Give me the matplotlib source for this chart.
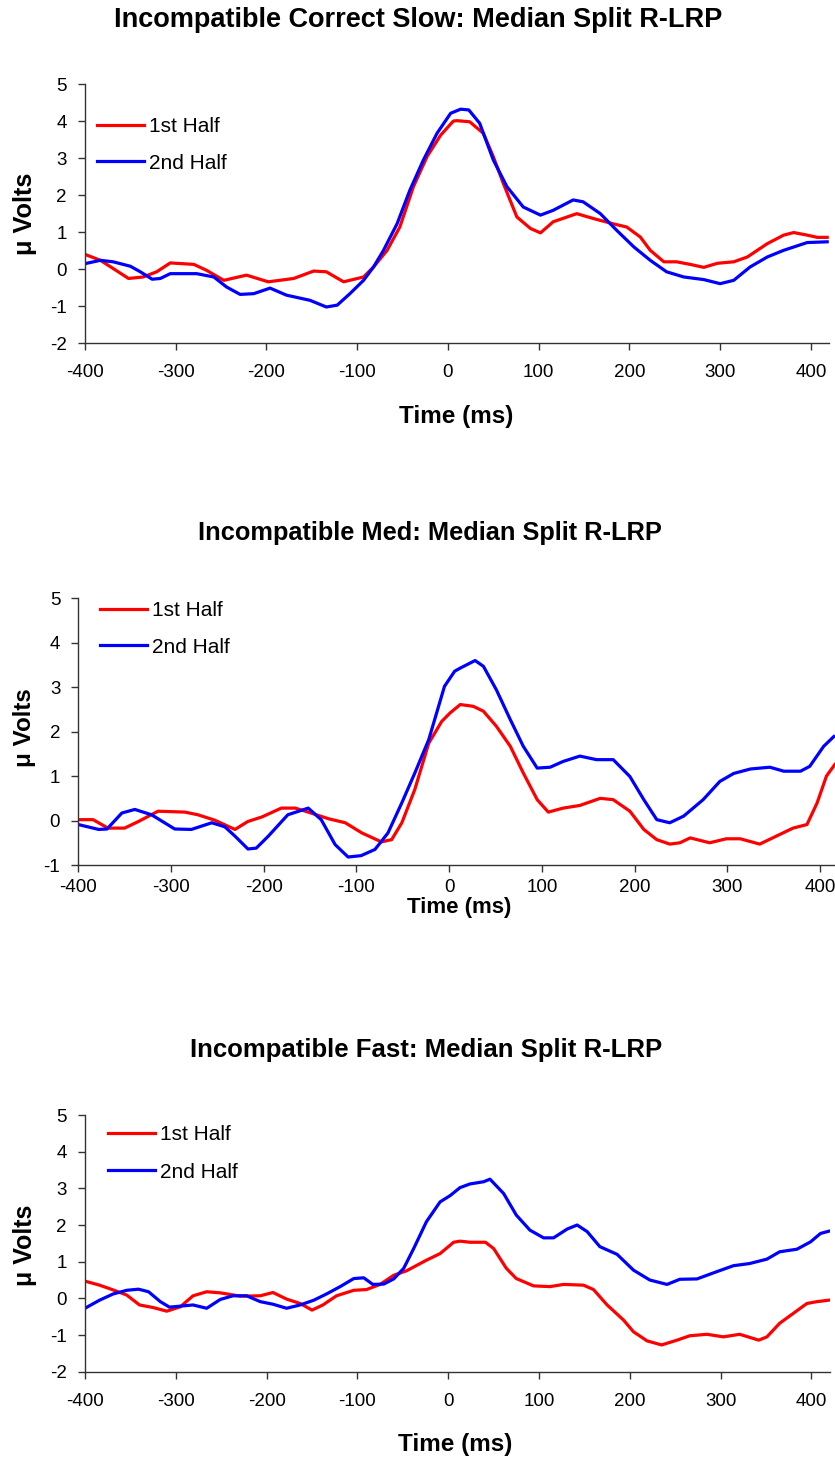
import matplotlib
matplotlib.use("Agg")
import matplotlib.pyplot as plt

plt.rcParams['font.family'] = ['Liberation Sans', 'DejaVu Sans']
plt.rcParams['axes.unicode_minus'] = False

W, H = 835, 1462

# ---- Incompatible Correct Slow ----
slow_t1 = [-400, -383, -369, -352, -336, -321, -306, -280, -266, -247, -222, -198, -170, -148, -134,
           -115, -93, -82, -67, -53, -38, -23, -8, 6, 10, 24, 39, 50, 61, 76, 91, 102, 116, 142, 160,
           183, 197, 212, 223, 238, 252, 267, 282, 297, 315, 330, 352, 370, 381, 396, 407, 418]
slow_v1 = [0.40, 0.24, 0.02, -0.25, -0.21, -0.07, 0.17, 0.13, -0.03, -0.30, -0.16, -0.34, -0.25, -0.05, -0.07,
           -0.34, -0.21, 0.06, 0.51, 1.14, 2.23, 3.04, 3.62, 4.00, 4.01, 3.98, 3.67, 3.04, 2.32, 1.41, 1.10, 0.98,
           1.28, 1.50, 1.37, 1.22, 1.14, 0.87, 0.51, 0.20, 0.20, 0.13, 0.05, 0.16, 0.20, 0.33, 0.69, 0.92, 0.99,
           0.92, 0.86, 0.86]
slow_t2 = [-400, -383, -369, -350, -339, -326, -317, -306, -277, -258, -244, -229, -214, -196, -178, -152,
           -134, -122, -108, -93, -82, -71, -56, -42, -27, -12, 3, 14, 23, 35, 50, 65, 83, 102, 116, 138,
           149, 168, 186, 205, 223, 241, 260, 282, 300, 315, 333, 352, 370, 396, 418]
slow_v2 = [0.15, 0.24, 0.20, 0.08, -0.07, -0.27, -0.25, -0.12, -0.12, -0.21, -0.48, -0.68, -0.66, -0.51,
           -0.70, -0.84, -1.02, -0.97, -0.66, -0.30, 0.06, 0.51, 1.23, 2.13, 2.95, 3.67, 4.21, 4.32, 4.30,
           3.94, 2.95, 2.23, 1.68, 1.46, 1.59, 1.87, 1.82, 1.50, 1.05, 0.60, 0.24, -0.07, -0.21, -0.28, -0.39,
           -0.30, 0.06, 0.33, 0.51, 0.72, 0.74]

# ---- Incompatible Med ----
med_t1 = [-400, -384, -368, -350, -335, -314, -285, -271, -253, -231, -217, -202, -181, -166, -152, -130,
          -112, -94, -73, -62, -51, -37, -22, -8, 1, 12, 26, 37, 51, 66, 80, 95, 107, 123, 141, 163, 177,
          195, 210, 224, 238, 249, 260, 281, 299, 314, 335, 353, 371, 386, 397, 407, 416]
med_v1 = [0.02, 0.02, -0.17, -0.17, -0.02, 0.21, 0.19, 0.13, 0.01, -0.20, -0.02, 0.08, 0.28, 0.28, 0.19,
          0.04, -0.05, -0.28, -0.48, -0.43, -0.05, 0.70, 1.74, 2.23, 2.42, 2.61, 2.57, 2.46, 2.12, 1.67, 1.07,
          0.47, 0.19, 0.28, 0.34, 0.50, 0.47, 0.21, -0.20, -0.43, -0.53, -0.50, -0.39, -0.50, -0.41, -0.41,
          -0.53, -0.35, -0.17, -0.09, 0.40, 1.00, 1.26]
med_t2 = [-400, -378, -369, -353, -339, -321, -296, -278, -256, -242, -231, -217, -208, -195, -174, -152,
          -138, -123, -109, -95, -80, -66, -51, -37, -22, -5, 6, 12, 28, 37, 51, 66, 80, 95, 109, 123, 141,
          159, 177, 195, 210, 224, 238, 253, 274, 292, 307, 325, 346, 361, 379, 389, 404, 415]
med_v2 = [-0.09, -0.20, -0.19, 0.17, 0.25, 0.13, -0.19, -0.20, -0.05, -0.14, -0.35, -0.64, -0.62, -0.35,
          0.13, 0.28, 0.02, -0.54, -0.82, -0.79, -0.65, -0.28, 0.40, 1.07, 1.82, 3.02, 3.36, 3.43, 3.60, 3.47,
          2.94, 2.27, 1.67, 1.18, 1.20, 1.33, 1.45, 1.37, 1.37, 0.99, 0.47, 0.02, -0.05, 0.10, 0.47, 0.88,
          1.06, 1.16, 1.20, 1.11, 1.11, 1.22, 1.67, 1.89]

# ---- Incompatible Fast ----
fast_t1 = [-400, -384, -369, -354, -340, -325, -310, -295, -281, -266, -251, -229, -207, -193, -178, -163,
           -150, -138, -123, -104, -90, -75, -60, -46, -24, -9, 6, 13, 24, 41, 50, 64, 75, 94, 112, 127, 149,
           160, 175, 193, 204, 219, 235, 252, 266, 285, 303, 321, 342, 351, 365, 380, 395, 406, 419]
fast_v1 = [0.47, 0.36, 0.23, 0.09, -0.18, -0.25, -0.35, -0.23, 0.07, 0.18, 0.15, 0.06, 0.07, 0.16, -0.02,
           -0.14, -0.32, -0.18, 0.07, 0.22, 0.24, 0.38, 0.63, 0.75, 1.04, 1.22, 1.53, 1.56, 1.53, 1.53, 1.36,
           0.82, 0.54, 0.34, 0.32, 0.38, 0.36, 0.24, -0.18, -0.59, -0.91, -1.16, -1.27, -1.14, -1.02, -0.98,
           -1.05, -0.98, -1.14, -1.05, -0.68, -0.41, -0.14, -0.09, -0.05]
fast_t2 = [-400, -384, -369, -354, -341, -330, -317, -307, -281, -266, -251, -237, -222, -207, -193, -178,
           -163, -148, -134, -119, -104, -93, -83, -71, -60, -49, -38, -24, -9, 2, 13, 24, 39, 46, 61, 75,
           90, 105, 116, 131, 142, 153, 167, 186, 204, 222, 241, 255, 274, 296, 314, 332, 351, 365, 384,
           399, 410, 419]
fast_v2 = [-0.27, -0.05, 0.12, 0.22, 0.25, 0.18, -0.09, -0.24, -0.18, -0.27, -0.03, 0.07, 0.07, -0.09,
           -0.16, -0.27, -0.18, -0.05, 0.12, 0.32, 0.54, 0.56, 0.38, 0.39, 0.53, 0.82, 1.36, 2.09, 2.63, 2.80,
           3.02, 3.12, 3.18, 3.25, 2.86, 2.27, 1.86, 1.65, 1.65, 1.89, 2.00, 1.82, 1.41, 1.20, 0.77, 0.50,
           0.38, 0.52, 0.53, 0.73, 0.89, 0.95, 1.07, 1.27, 1.34, 1.54, 1.77, 1.83]

titles = ["Incompatible Correct Slow: Median Split R-LRP",
          "Incompatible Med: Median Split R-LRP",
          "Incompatible Fast: Median Split R-LRP"]
series = [(slow_t1, slow_v1, slow_t2, slow_v2),
          (med_t1, med_v1, med_t2, med_v2),
          (fast_t1, fast_v1, fast_t2, fast_v2)]
ylims = [(-2, 5), (-1, 5), (-2, 5)]
xticks = [-400, -300, -200, -100, 0, 100, 200, 300, 400]

# layout per panel, in pixels of the 835x1462 picture
layout = [
    dict(box=(85, 829, 84, 343.3), title=(418, 20), tsize=19.5, xlab=(456, 416), xsize=17.5,
         ylab=214, ysize=18.3, xpad=10, leg=(97, 117), lspace=0.85),
    dict(box=(78.3, 838.5, 598.3, 865), title=(430, 533), tsize=18.3, xlab=(459, 907), xsize=16,
         ylab=728, ysize=17.4, xpad=5, leg=(100, 601), lspace=0.85),
    dict(box=(85, 829.6, 1115, 1371.7), title=(426, 1050), tsize=18.5, xlab=(455, 1445), xsize=17.5,
         ylab=1245, ysize=18, xpad=10, leg=(108, 1125), lspace=0.9),
]

fig = plt.figure(figsize=(W / 100, H / 100), dpi=100)

for title, (t1, v1, t2, v2), ylim, lay in zip(titles, series, ylims, layout):
    left, right, top, bottom = lay['box']
    ax = fig.add_axes([left / W, 1 - bottom / H, (right - left) / W, (bottom - top) / H])
    ax.plot(t1, v1, color='#ff0000', lw=2.3, label='1st Half')
    ax.plot(t2, v2, color='#0000ff', lw=2.3, label='2nd Half')
    ax.set_xlim(-400, 420)
    ax.set_ylim(*ylim)
    ax.set_xticks(xticks)
    ax.set_yticks(range(ylim[0], ylim[1] + 1))
    ax.tick_params(direction='out', length=5, width=1, labelsize=13.5, pad=8, color='#333333')
    ax.tick_params(axis='x', pad=lay['xpad'])
    for s in ['top', 'right']:
        ax.spines[s].set_visible(False)
    for s in ['left', 'bottom']:
        ax.spines[s].set_linewidth(1)
        ax.spines[s].set_color('#333333')
    lx, ly = lay['leg']
    ax.legend(loc='upper left', bbox_to_anchor=(lx / W, 1 - ly / H), bbox_transform=fig.transFigure,
              frameon=False, fontsize=15, handlelength=2.25, handletextpad=0.25,
              labelspacing=lay['lspace'], borderaxespad=0, borderpad=0)
    fig.text(lay['title'][0] / W, 1 - lay['title'][1] / H, title, ha='center', va='center',
             fontsize=lay['tsize'], fontweight='bold')
    fig.text(lay['xlab'][0] / W, 1 - lay['xlab'][1] / H, 'Time (ms)', ha='center', va='center',
             fontsize=lay['xsize'], fontweight='bold')
    fig.text(25 / W, 1 - lay['ylab'] / H, 'μ Volts', ha='center', va='center', rotation=90,
             fontsize=lay['ysize'], fontweight='bold')

fig.savefig('out.png', dpi=100, facecolor='white')
